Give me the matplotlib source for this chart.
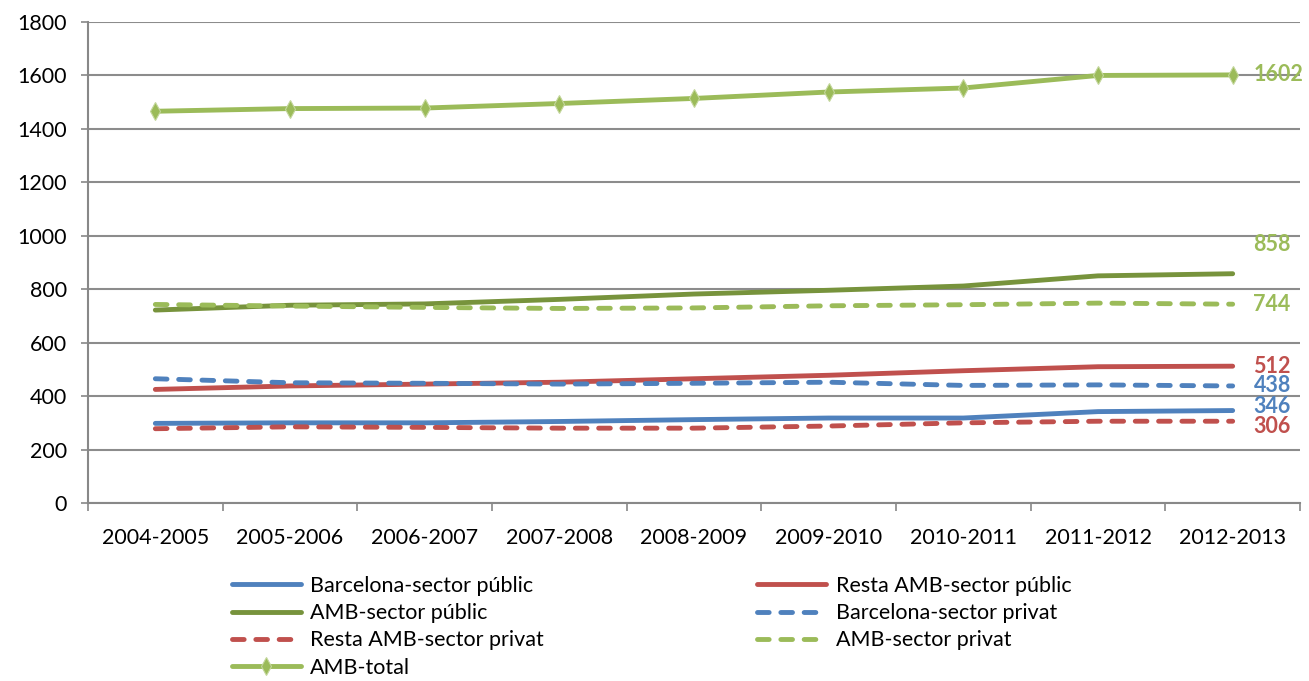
import matplotlib.pyplot as plt
import numpy as np

plt.rcParams['font.family'] = ['Lato', 'DejaVu Sans']

years = ["2004-2005", "2005-2006", "2006-2007", "2007-2008", "2008-2009",
         "2009-2010", "2010-2011", "2011-2012", "2012-2013"]

bcn_public = [298, 300, 300, 305, 312, 318, 318, 342, 346]
resta_public = [425, 438, 445, 452, 465, 478, 495, 510, 512]
amb_public = [722, 740, 745, 762, 782, 796, 812, 850, 858]
bcn_privat = [465, 450, 448, 445, 448, 452, 440, 442, 438]
resta_privat = [278, 285, 283, 280, 280, 288, 300, 306, 306]
amb_privat = [743, 737, 732, 728, 730, 738, 742, 748, 744]
amb_total = [1466, 1476, 1478, 1495, 1514, 1538, 1553, 1600, 1602]

blue = '#4F81BD'
red = '#C0504D'
dgreen = '#77933C'
lgreen = '#9BBB59'

fig = plt.figure(figsize=(13.09, 6.81), dpi=100)
ax = fig.add_axes([88 / 1309, 1 - 503 / 681, 1212 / 1309, 481 / 681])

x = np.arange(len(years))
lw = 3.5
dash = (0, (2.4, 2.4))

series = [
    ("Barcelona-sector públic", bcn_public, blue, '-', None),
    ("Resta AMB-sector públic", resta_public, red, '-', None),
    ("AMB-sector públic", amb_public, dgreen, '-', None),
    ("Barcelona-sector privat", bcn_privat, blue, dash, None),
    ("Resta AMB-sector privat", resta_privat, red, dash, None),
    ("AMB-sector privat", amb_privat, lgreen, dash, None),
    ("AMB-total", amb_total, lgreen, '-', 'd'),
]

handles = {}
for name, vals, col, ls, mk in series:
    h, = ax.plot(x, vals, color=col, lw=lw, ls=ls, marker=mk, markersize=9,
                 markeredgecolor='#C3D69B', markeredgewidth=0.8,
                 solid_capstyle='round', dash_capstyle='round', zorder=3)
    handles[name] = h

# labels at the end of each line
end_labels = [
    (amb_total, lgreen, 0),
    (amb_public, lgreen, 21),
    (amb_privat, lgreen, 0),
    (resta_public, red, 0),
    (bcn_privat, blue, 0),
    (bcn_public, blue, 3),
    (resta_privat, red, -4),
]
for vals, col, dy in end_labels:
    ax.annotate(str(vals[-1]), xy=(x[-1], vals[-1]), xytext=(15, dy),
                textcoords='offset points', color=col, fontsize=15.5,
                fontweight='bold', va='center', ha='left', zorder=4)

ax.set_xlim(-0.5, len(years) - 0.5)
ax.set_ylim(0, 1800)
ax.set_yticks(range(0, 1801, 200))
ax.set_xticks(x)
ax.set_xticklabels(years)
ax.set_xticks(np.arange(-0.5, len(years)), minor=True)
ax.tick_params(axis='x', which='major', length=0, pad=18, labelsize=15.5)
ax.tick_params(axis='x', which='minor', length=6, color='#888888', width=1.2)
ax.tick_params(axis='y', length=5, color='#888888', width=1.2, labelsize=15.5, pad=10)

ax.yaxis.grid(True, color='#8C8C8C', lw=1.5)
ax.set_axisbelow(True)
for s in ['top', 'right']:
    ax.spines[s].set_visible(False)
for s in ['left', 'bottom']:
    ax.spines[s].set_color('#888888')
    ax.spines[s].set_linewidth(1.5)

order = ["Barcelona-sector públic", "AMB-sector públic", "Resta AMB-sector privat", "AMB-total",
         "Resta AMB-sector públic", "Barcelona-sector privat", "AMB-sector privat"]
leg = fig.legend([handles[n] for n in order], order, ncol=2, loc='upper left',
                 bbox_to_anchor=(221 / 1309, 1 - 565 / 681), frameon=False,
                 fontsize=15.5, handlelength=3.2, handletextpad=0.45,
                 columnspacing=9.9, labelspacing=0.34, borderpad=0)

fig.savefig('out.png', dpi=100)
